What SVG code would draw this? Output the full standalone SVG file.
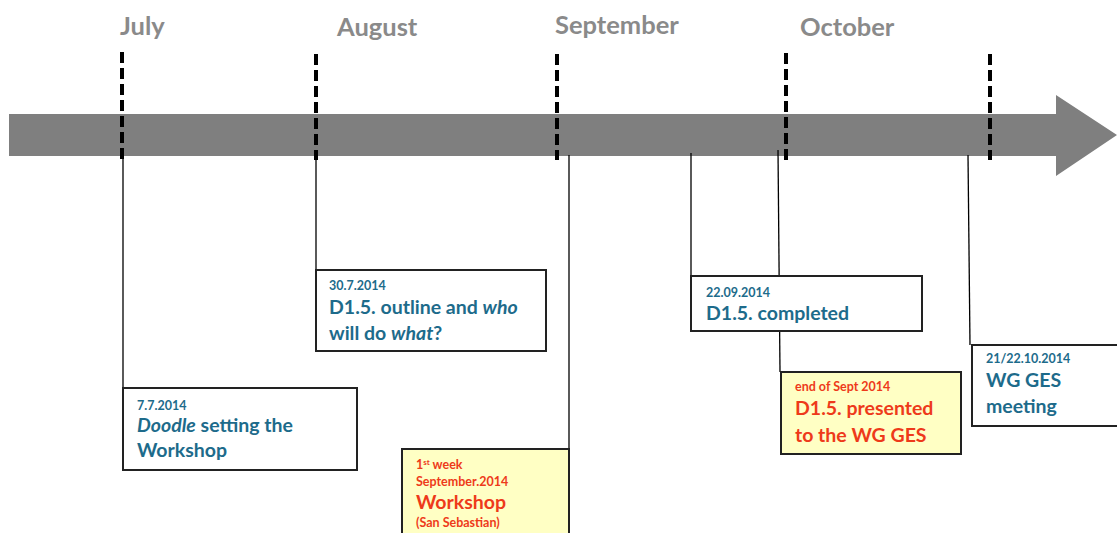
<svg xmlns="http://www.w3.org/2000/svg" width="1117" height="533" viewBox="0 0 1117 533">
<style>
.month{font-family:Lato,"Open Sans","Liberation Sans",sans-serif;font-weight:bold;font-size:25.5px;fill:#8a8a8a}
.dash{stroke:#000;stroke-width:4;stroke-dasharray:11,5;fill:none}
.conn{stroke:#000;stroke-width:1.3;fill:none}
.box{fill:#fff;stroke:#222;stroke-width:2}
.ybox{fill:#ffffc4;stroke:#222;stroke-width:2}
.t{font-family:Lato,"Open Sans","Liberation Sans",sans-serif;font-weight:bold;fill:#1d6b8b}
.r{font-family:Lato,"Open Sans","Liberation Sans",sans-serif;font-weight:bold;fill:#ee3a1a}
.d{font-size:12.5px}
.m{font-size:19.5px}
</style>
<rect width="1117" height="533" fill="#fff"/>
<g id="timeline">
<polygon points="9,114 1056,114 1056,95 1117,135 1056,176 1056,156 9,156" fill="#7f7f7f"/>
</g>
<g id="months">
<text class="month" x="120" y="35">July</text>
<text class="month" x="337" y="36">August</text>
<text class="month" x="555" y="34">September</text>
<text class="month" x="800" y="36">October</text>
</g>
<g id="month-markers">
<line class="dash" x1="122" y1="52" x2="122" y2="160"/>
<line class="dash" x1="316" y1="54" x2="316" y2="160"/>
<line class="dash" x1="557" y1="54" x2="557" y2="160"/>
<line class="dash" x1="786" y1="53" x2="786" y2="160"/>
<line class="dash" x1="990" y1="54" x2="990" y2="160"/>
</g>
<g id="connectors">
<line class="conn" x1="123" y1="155" x2="123" y2="388"/>
<line class="conn" x1="316" y1="155" x2="316" y2="305"/>
<line class="conn" x1="569" y1="155" x2="569" y2="533"/>
<line class="conn" x1="691" y1="153" x2="691" y2="310"/>
<line class="conn" x1="778" y1="150" x2="780" y2="372"/>
<line class="conn" x1="968" y1="155" x2="970" y2="345"/>
</g>
<g id="node-doodle">
<rect class="box" x="123" y="388" width="234" height="82"/>
<text class="t d" x="137" y="410">7.7.2014</text>
<text class="t m" x="137" y="432"><tspan font-style="italic">Doodle</tspan> setting the</text>
<text class="t m" x="137" y="457">Workshop</text>
</g>
<g id="node-outline">
<rect class="box" x="316" y="270" width="230" height="81"/>
<text class="t d" x="329" y="290">30.7.2014</text>
<text class="t m" x="329" y="314">D1.5. outline and <tspan font-style="italic">who</tspan></text>
<text class="t m" x="329" y="340">will do <tspan font-style="italic">what</tspan>?</text>
</g>
<g id="node-workshop">
<rect class="ybox" x="402" y="449" width="167" height="90"/>
<text class="r" x="416" y="469" font-size="12.5">1<tspan font-size="8" dy="-4">st</tspan><tspan dy="4"> week</tspan></text>
<text class="r d" x="416" y="486">September.2014</text>
<text class="r m" x="416" y="509">Workshop</text>
<text class="r d" x="416" y="527">(San Sebastian)</text>
</g>
<g id="node-completed">
<rect class="box" x="691" y="276" width="231" height="55"/>
<text class="t d" x="706" y="297">22.09.2014</text>
<text class="t m" x="706" y="320">D1.5. completed</text>
</g>
<g id="node-presented">
<rect class="ybox" x="781" y="372" width="180" height="82"/>
<text class="r d" x="795" y="391">end of Sept 2014</text>
<text class="r m" x="795" y="415">D1.5. presented</text>
<text class="r m" x="795" y="442">to the WG GES</text>
</g>
<g id="node-meeting">
<rect class="box" x="972" y="345" width="150" height="81"/>
<text class="t d" x="986" y="363">21/22.10.2014</text>
<text class="t m" x="986" y="387">WG GES</text>
<text class="t m" x="986" y="413">meeting</text>
</g>
</svg>
